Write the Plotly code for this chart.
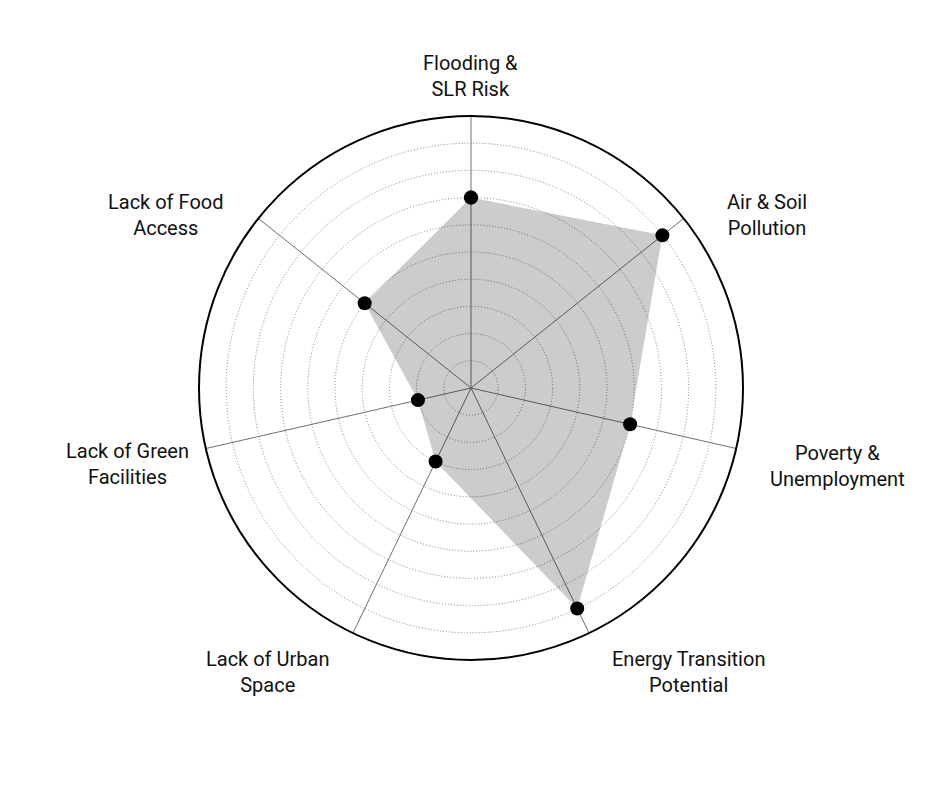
import math
import plotly.graph_objects as go

categories = ["Flooding &<br>SLR Risk", "Air & Soil<br>Pollution", "Poverty &<br>Unemployment",
              "Energy Transition<br>Potential", "Lack of Urban<br>Space", "Lack of Green<br>Facilities",
              "Lack of Food<br>Access"]
values = [7, 9, 6, 9, 3, 2, 5]

# page has an 8px body margin; work in window pixels and convert
OFF = 8
W, H = 939 - 2 * OFF, 805 - 2 * OFF
CX, CY, R = 471 - OFF, 388 - OFF, 272
# label block centres (window pixels), layout only
label_pos = [(471, 76), (767, 215), (837, 466), (688, 672), (267, 672), (127, 464), (165, 215)]

fig = go.Figure()
fig.add_trace(go.Scatterpolar(
    r=values + [values[0]], theta=categories + [categories[0]],
    mode="markers", fill="toself", fillcolor="rgba(0,0,0,0.2)",
    line=dict(width=0, color="rgba(0,0,0,0)"),
    marker=dict(size=14, color="black"), hoverinfo="skip", showlegend=False,
))

annotations = []
for cat, (px, py) in zip(categories, label_pos):
    annotations.append(dict(x=(px - OFF) / W, y=1 - (py - OFF) / H, xref="paper", yref="paper",
                            text=cat, showarrow=False, align="center",
                            xanchor="center", yanchor="middle",
                            font=dict(family="Roboto", size=20, color="#111")))

fig.update_layout(
    width=W, height=H, margin=dict(l=0, r=0, t=0, b=0),
    paper_bgcolor="white", plot_bgcolor="white",
    annotations=annotations,
    polar=dict(
        domain=dict(x=[(CX - R) / W, (CX + R) / W], y=[1 - (CY + R) / H, 1 - (CY - R) / H]),
        bgcolor="white",
        radialaxis=dict(range=[0, 10], dtick=1, showticklabels=False, ticks="", showline=False,
                        gridcolor="#808080", griddash="1px,2px", gridwidth=1),
        angularaxis=dict(direction="clockwise", rotation=90, showticklabels=False, ticks="",
                         showline=True, linecolor="black", linewidth=2,
                         gridcolor="#6f6f6f", gridwidth=1),
    ),
)
fig.write_html("out.html")
